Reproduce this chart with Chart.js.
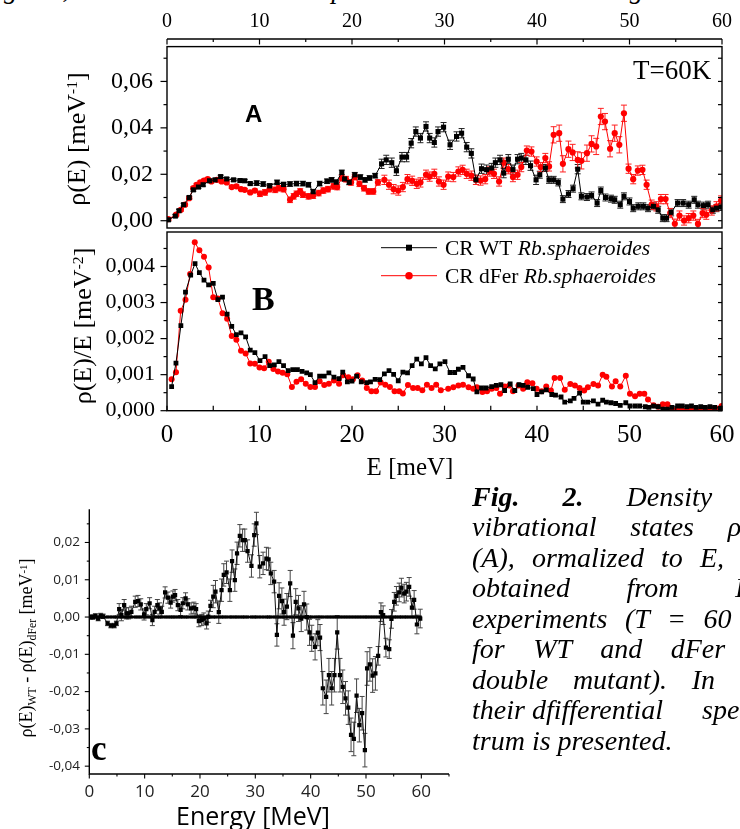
<!DOCTYPE html>
<html lang="en">
<head>
<meta charset="UTF-8">
<meta name="viewport" content="width=740, initial-scale=1.0">
<title>Density of vibrational states, CR WT and dFer</title>
<script src="https://cdn.jsdelivr.net/npm/chart.js"></script>
<style>
    html, body { margin: 0; padding: 0; background: #fff; }
    body { position: relative; width: 740px; height: 829px; overflow: hidden; color: #000; font-family: "Liberation Serif", serif; }
    canvas { position: absolute; left: 0; }
    #chartA { top: 0; }
    #chartB { top: 228px; }
    #chartC { top: 480px; }
    .rot { position: absolute; width: 240px; text-align: center; white-space: nowrap; transform: rotate(-90deg); }
    .sup { position: relative; top: -0.5em; font-size: 0.6em; }
    .sub { position: relative; top: 0.3em; font-size: 0.65em; }
    .title { position: absolute; width: 200px; text-align: center; white-space: nowrap; }
    #caption { position: absolute; left: 472px; top: 481.75px; width: 305px; font-size: 28px; line-height: 30.5px; font-style: italic; }
    #caption div { text-align: justify; text-align-last: justify; }
    #caption div.last { text-align-last: left; white-space: nowrap; }
    #cut { position: absolute; left: 4px; top: -23.6px; font-size: 27px; line-height: 27px; font-style: italic; white-space: nowrap; }
</style>
</head>
<body>
    <div id="cut">gions, and the measured INS spectra are then shown in Figure</div>

    <canvas id="chartA" width="740" height="232"></canvas>
    <canvas id="chartB" width="740" height="250"></canvas>
    <canvas id="chartC" width="460" height="349"></canvas>

    <!-- axis titles -->
    <div class="rot" style="left:-43px; top:123.5px; height:30px; line-height:30px; font-size:26px;">&rho;(E) [meV<span class="sup">-1</span>]</div>
    <div class="rot" style="left:-37px; top:311px; height:30px; line-height:30px; font-size:26px;">&rho;(E)/E [meV<span class="sup">-2</span>]</div>
    <div class="rot" style="left:-94px; top:636px; height:24px; line-height:24px; font-size:18px;">&rho;(E)<span class="sub">WT</span> - &rho;(E)<span class="sub">dFer</span> [meV<span class="sup">-1</span>]</div>
    <div class="title" style="left:310px; top:452px; line-height:30px; font-size:25px;">E [meV]</div>
    <div class="title" style="left:153px; top:800px; line-height:30px; font-size:25px; font-family:'Open Sans', sans-serif;">Energy [MeV]</div>

    <!-- caption -->
    <div id="caption">
        <div><b>Fig. 2.</b> Density of</div>
        <div>vibrational states &rho;(E)</div>
        <div>(A), ormalized to E, (B)</div>
        <div>obtained from INS</div>
        <div>experiments (T = 60 K)</div>
        <div>for WT and dFer (a</div>
        <div>double mutant). In (C)</div>
        <div class="last">their dfifferential <span style="margin-left:32px">spec-</span></div>
        <div class="last">trum is presented.</div>
    </div>

    <script>
        // ---- values ----

        // A: rho(E) [1/meV], CR WT
        const wtE = [0.15,0.9,1.3,1.8,2.4,2.85,3.4,3.9,4.6,5.2,
            5.8,6.45,7.2,7.9,8.4,9.0,9.7,10.4,11.1,11.9,
            12.6,13.3,14.0,14.7,15.3,15.8,16.5,17.3,17.8,18.3,
            18.9,19.2,19.7,20.3,20.9,21.4,21.9,22.5,23.2,23.7,
            24.3,24.8,25.4,25.9,26.4,26.9,27.4,28.0,28.4,28.9,
            29.3,29.9,30.6,31.3,31.85,32.4,32.9,33.4,34.0,34.55,
            35.1,35.5,36.0,36.4,36.9,37.4,37.9,38.3,38.8,39.3,
            39.9,40.3,40.9,41.3,41.8,42.3,42.8,43.4,43.9,44.4,
            44.8,45.4,45.9,46.5,46.9,47.4,48.0,48.4,49.0,49.4,
            50.0,50.4,50.95,51.5,52.0,52.6,53.1,53.6,54.0,54.5,
            55.2,55.8,56.4,57.0,57.4,58.0,58.5,59.0,59.4,59.9];
        const wtRho = [.0004,.002,.0043,.0069,.01,.0133,.0145,.0155,.0172,.0176,
            .019,.018,.0176,.0173,.0172,.016,.0162,.0158,.015,.0165,
            .0156,.0158,.016,.016,.0155,.0125,.016,.017,.0176,.0166,
            .0208,.018,.0165,.0198,.0188,.0176,.0184,.0194,.0245,.0262,
            .025,.0215,.0274,.0274,.0334,.0384,.0356,.0406,.0356,.0337,
            .0384,.0403,.0327,.0363,.0377,.0317,.029,.0176,.0224,.022,
            .0227,.025,.0262,.0205,.0265,.022,.0265,.027,.0262,.0237,
            .0176,.0198,.0227,.0176,.0176,.0165,.0093,.0115,.0138,.0222,
            .0105,.0102,.0109,.0076,.013,.01,.0095,.009,.0069,.0105,
            .0083,.0054,.0062,.0062,.0054,.0062,.0047,.0011,.0011,.0036,
            .0076,.0076,.0069,.009,.0069,.0065,.0069,.0047,.0054,.0059];
        const wtRhoErr = [.0006,.0006,.0006,.0006,.0006,.0006,.0006,.0006,.0006,.0006,
            .0006,.0006,.0006,.0006,.0006,.0006,.001,.001,.001,.001,
            .001,.001,.001,.001,.001,.001,.001,.001,.001,.001,
            .001,.001,.001,.001,.001,.001,.001,.001,.002,.002,
            .002,.002,.002,.002,.002,.002,.002,.002,.002,.002,
            .002,.002,.002,.002,.002,.002,.002,.002,.002,.002,
            .002,.002,.002,.002,.002,.002,.002,.002,.002,.002,
            .002,.0015,.0015,.0015,.0015,.0015,.0015,.0015,.0015,.002,
            .0015,.0015,.0015,.0015,.0015,.0015,.0015,.0015,.0015,.0015,
            .0015,.0015,.0015,.0015,.0015,.0015,.0015,.0015,.0015,.0015,
            .0015,.0015,.0015,.0015,.0015,.0015,.0015,.0015,.0015,.0015];

        // A: rho(E) [1/meV], CR dFer
        const dferE = [0.15,1.0,1.5,1.95,2.4,2.85,3.2,3.6,4.0,4.4,
            4.8,5.4,5.9,6.45,7.0,7.5,8.0,8.4,9.0,9.5,
            10.05,10.6,11.1,11.7,12.1,12.6,13.3,13.7,14.0,14.4,
            14.7,15.3,15.8,16.4,16.9,17.4,18.0,18.4,18.9,19.35,
            19.9,20.3,20.8,21.3,21.8,22.3,22.8,23.5,24.0,24.5,
            25.0,25.5,26.0,26.5,27.0,27.4,28.0,28.4,28.9,29.4,
            29.9,30.4,30.95,31.5,31.96,32.4,32.9,33.4,33.9,34.4,
            34.9,35.35,35.9,36.4,36.9,37.4,37.9,38.3,38.9,39.4,
            39.96,40.4,40.9,41.3,41.8,42.4,42.8,43.4,43.85,44.4,
            44.8,45.4,45.9,46.4,46.9,47.35,47.9,48.4,48.9,49.4,
            49.9,50.4,50.9,51.4,51.85,52.4,52.9,53.4,53.9,54.4,
            54.9,55.4,55.9,56.4,56.9,57.4,57.9,58.3,58.9,59.4,
            59.9];
        const dferRho = [.0007,.0026,.0047,.0069,.0097,.014,.0155,.0165,.0173,.0179,
            .0169,.0176,.0169,.0165,.0145,.0148,.0136,.0133,.0122,.013,
            .0116,.0122,.0136,.0133,.014,.0136,.009,.0105,.0116,.0126,
            .0112,.0105,.0108,.0119,.013,.0136,.0148,.0145,.0184,.0179,
            .0165,.0188,.0159,.014,.0126,.0126,.0165,.0176,.0155,.0136,
            .013,.0145,.0179,.0172,.0159,.0165,.0198,.019,.0202,.0169,
            .0155,.019,.0188,.0212,.0219,.0202,.0194,.0176,.0173,.0179,
            .0212,.0202,.0169,.025,.0222,.0188,.0198,.0231,.0302,.0298,
            .0255,.0231,.027,.0234,.037,.0377,.0245,.0308,.0294,.0262,
            .0258,.0291,.0331,.032,.0449,.0427,.031,.0377,.0327,.0463,
            .0224,.0179,.0216,.0219,.0155,.0069,.0062,.0093,.0093,.0033,
            -.0013,.0022,.0001,.0011,.0022,-.0014,.0033,.0026,.0044,.0062,
            .0087];
        const dferRhoErr = [.0006,.0006,.0006,.0006,.0006,.0006,.0006,.0006,.0006,.0006,
            .0006,.0006,.0006,.0006,.0006,.0006,.0006,.0006,.0006,.0006,
            .0012,.0012,.0012,.0012,.0012,.0012,.0012,.0012,.0012,.0012,
            .0012,.0012,.0012,.0012,.0012,.0012,.0012,.0012,.0012,.0012,
            .0012,.0012,.0012,.0012,.0012,.0012,.0012,.002,.002,.002,
            .002,.002,.002,.002,.002,.002,.002,.002,.002,.002,
            .002,.002,.002,.002,.002,.002,.002,.002,.002,.002,
            .002,.002,.002,.002,.002,.002,.002,.002,.002,.002,
            .002,.002,.002,.002,.0035,.0035,.0035,.0035,.0035,.0035,
            .0035,.0035,.0035,.0035,.0035,.0035,.0035,.0035,.0035,.0035,
            .002,.002,.002,.002,.002,.002,.002,.002,.002,.002,
            .002,.002,.002,.002,.002,.002,.002,.002,.002,.002,
            .002];

        // B: rho(E)/E [1/meV^2]
        const wtEB = [0.5,0.97,1.5,2.0,2.56,3.03,3.5,4.0,4.5,5.0,
            5.5,6.0,6.5,7.0,7.5,8.0,8.5,9.0,9.5,10.05,
            10.6,11.1,11.6,12.1,12.6,13.1,13.6,14.1,14.6,15.1,
            15.5,16.0,16.5,17.0,17.5,18.05,18.6,19.0,19.5,20.0,
            20.5,21.0,21.6,22.0,22.5,23.0,23.5,24.0,24.5,25.0,
            25.5,26.0,26.5,27.0,27.5,28.0,28.5,29.0,29.5,30.05,
            30.6,31.1,31.5,32.0,32.6,33.1,33.5,34.0,34.5,35.1,
            35.6,36.1,36.5,37.1,37.6,38.05,38.5,39.0,39.6,40.0,
            40.5,41.0,41.6,42.0,42.6,43.0,43.6,44.0,44.6,45.0,
            45.5,46.1,46.6,47.1,47.5,48.0,48.5,49.0,49.6,50.05,
            50.6,51.1,51.7,52.1,52.6,53.1,53.6,54.1,54.6,55.2,
            55.7,56.2,56.7,57.2,57.7,58.2,58.7,59.2,59.8];
        const wtRhoE = [.00067,.00132,.00236,.00329,.00376,.00408,.00383,.00362,.00349,.00353,
            .00308,.00315,.00268,.00234,.00211,.00216,.00205,.00168,.00161,.00139,
            .0015,.00125,.00127,.00136,.00125,.00111,.00114,.00114,.00109,.00105,
            .001,.00078,.00096,.00096,.00105,.00093,.00089,.00107,.0008,.00082,
            .00096,.0008,.00078,.0008,.00087,.00086,.00102,.00111,.00101,.00083,
            .00107,.00105,.00125,.00143,.0013,.00147,.00125,.00116,.0013,.00136,
            .00106,.00106,.00115,.0012,.00097,.00088,.00052,.00063,.00063,.00067,
            .0007,.00072,.00056,.00074,.00056,.00072,.0007,.00065,.00061,.00045,
            .00052,.00058,.00045,.00043,.00038,.00024,.00027,.00034,.00049,.00024,
            .00024,.00027,.00018,.00029,.00024,.00022,.0002,.00015,.00022,.00013,
            .00013,.00013,.00011,.00009,.00013,.00011,.00004,.00004,.00009,.00013,
            .00013,.00011,.00013,.00009,.00011,.00009,.00011,.00009,.00007];
        const dferEB = [0.5,0.97,1.48,2.0,2.5,3.0,3.5,4.0,4.5,5.0,
            5.5,6.0,6.5,7.0,7.5,8.0,8.5,9.0,9.5,10.0,
            10.5,11.0,11.5,12.0,12.5,13.0,13.5,14.0,14.5,15.0,
            15.5,16.0,16.5,17.0,17.5,18.05,18.6,19.05,19.6,20.1,
            20.6,21.1,21.6,22.1,22.6,23.1,23.6,24.1,24.6,25.1,
            25.5,26.05,26.6,27.1,27.6,28.1,28.6,29.1,29.6,30.4,
            30.95,31.5,32.0,32.6,33.1,33.5,34.1,34.6,35.1,35.6,
            36.0,36.5,37.0,37.4,38.0,38.5,38.95,39.5,39.96,40.5,
            41.0,41.5,41.9,42.5,43.0,43.6,44.1,44.6,45.1,45.5,
            46.1,46.6,47.1,47.5,48.1,48.5,49.0,49.6,50.05,50.6,
            51.1,51.6,52.0,52.6,53.1,53.6,54.1,54.6,55.1,55.6,
            56.2,56.7,57.3,57.8,58.3,58.9,59.4,59.96];
        const dferRhoE = [.00087,.00107,.00277,.00308,.00379,.00467,.00445,.00427,.00397,.00315,
            .00311,.0027,.00255,.00207,.00197,.00166,.00159,.00131,.0013,.0012,
            .00118,.00136,.00116,.00109,.00105,.00101,.00066,.0008,.00087,.00075,
            .00066,.00066,.00082,.00071,.00075,.00084,.00075,.00098,.00093,.00087,
            .00098,.00084,.00063,.00054,.00054,.00078,.00072,.00066,.00054,.00054,
            .00048,.00071,.00063,.00063,.00057,.00072,.00063,.00072,.00057,.00061,
            .00065,.0007,.00072,.00065,.00061,.00065,.00052,.00054,.00061,.00063,
            .00047,.00067,.0007,.00054,.0007,.00061,.00079,.00076,.00061,.00054,
            .00067,.00056,.00091,.00091,.00058,.00074,.0007,.00063,.00056,.00065,
            .00074,.0007,.001,.00094,.00067,.00082,.00067,.00097,.00047,.0004,
            .00047,.00047,.00031,.00015,.00011,.00018,.00018,.00004,.00002,.00004,
            .00002,.00004,.00002,.00004,.00002,.00005,.00006,.00013];

        // C: rho(E)_WT - rho(E)_dFer [1/meV]
        const diffE = [0.25,0.67,1.1,1.6,2.05,2.5,3.3,3.9,4.5,4.9,
            5.4,5.8,6.3,6.7,7.1,7.6,8.3,8.8,9.3,9.9,
            10.3,10.9,11.4,11.8,12.3,12.7,13.1,13.7,14.2,14.7,
            15.1,15.5,16.0,16.5,16.9,17.4,17.8,18.4,18.9,19.3,
            19.8,20.3,20.7,21.2,21.5,21.9,22.4,22.8,23.4,23.9,
            24.3,24.8,25.4,25.8,26.3,26.7,27.2,27.7,28.1,28.6,
            29.3,29.8,30.2,30.8,31.4,32.0,32.4,32.8,33.4,33.9,
            34.3,34.8,35.2,35.7,36.3,36.8,37.3,37.8,38.3,38.8,
            39.3,39.8,40.2,40.8,41.3,41.7,42.2,42.8,43.3,43.8,
            44.3,44.8,45.3,45.8,46.3,46.8,47.3,47.8,48.3,48.8,
            49.3,49.8,50.2,50.7,51.2,51.7,52.2,52.7,53.1,53.6,
            54.2,54.6,55.1,55.5,56.0,56.4,56.9,57.3,57.8,58.3,
            58.7,59.2,59.8];
        const diffRho = [0,0,.0003,-.0004,.0004,.0002,-.0017,-.0023,-.0023,-.0017,
            .0021,.0005,.0032,.001,.001,.0014,.0041,.0043,.0034,.0007,
            .0021,.0037,-.0008,.0014,.0032,.0023,.0014,.0066,.0052,.0039,
            .0055,.0059,.0032,.0019,.0037,.005,.0034,.0023,.0025,.0021,
            -.0011,-.0008,-.0004,-.0017,.0001,.003,.0055,.0068,.0013,.0072,
            .0113,.012,.0072,.015,.0099,.0171,.0218,.0206,.0206,.0177,
            .0137,.022,.0251,.0135,.0144,.0157,.0155,.0117,.0095,-.0048,
            .0057,.0043,.0013,.0028,.009,-.005,.0041,.0023,-.0004,.0034,
            0,-.0041,-.0057,-.008,-.0042,-.0055,-.0191,-.0214,-.0156,-.0191,
            -.0156,-.0041,-.0156,-.0187,-.0218,-.0243,-.0316,-.0327,-.0211,-.029,
            -.0258,-.0357,-.0138,-.0127,-.0157,-.0151,-.0104,.0013,.0005,-.0082,
            -.0086,-.0005,.0041,.0057,.0066,.0079,.0063,.0068,.0081,.0025,
            .0046,-.002,-.0004];
        const diffErr = [.0006,.0006,.0006,.0006,.0006,.0006,.0006,.0006,.0006,.0006,
            .0015,.0015,.0015,.0015,.0015,.0015,.0015,.0015,.0015,.0015,
            .0015,.0015,.0015,.0015,.0015,.0015,.0015,.0015,.0015,.0015,
            .0015,.0015,.0015,.0015,.0015,.0015,.0015,.0015,.0015,.0015,
            .0015,.0015,.0015,.0015,.0015,.0015,.003,.003,.003,.003,
            .003,.003,.003,.003,.003,.003,.003,.003,.003,.003,
            .003,.003,.003,.003,.003,.003,.003,.003,.003,.003,
            .0035,.0035,.0035,.0035,.0035,.0035,.0035,.0035,.0035,.0035,
            .0035,.0035,.0035,.0035,.0035,.0035,.0045,.0045,.0045,.0045,
            .0045,.0045,.0045,.0045,.0045,.0045,.0045,.0045,.0045,.0045,
            .0045,.0045,.0045,.0045,.0045,.0045,.0025,.0025,.0025,.0025,
            .0025,.0025,.0025,.0025,.0025,.0025,.0025,.0025,.0025,.0025,
            .0025,.0025,.0025];

        const seriesNames = ['CR WT Rb.sphaeroides', 'CR dFer Rb.sphaeroides'];

        // ---- helpers ----
        const SERIF = 'Liberation Serif';
        const SANS = 'Open Sans';
        const pts = (xs, ys) => xs.map((x, i) => ({ x: x, y: ys[i] }));
        const comma = (v, d) => v.toFixed(d).replace('.', ',');

        // every other tick gets a label, the rest are minor ticks
        function majorLabel(step, digits) {
            return v => {
                const k = Math.round(v / step);
                return k % 2 === 0 ? comma(k * step, digits) : '';
            };
        }

        function axis(extra) {
            return Object.assign({
                type: 'linear',
                grid: { display: false, drawTicks: false },
                border: { display: false }
            }, extra);
        }

        function fixSize(prop, size) {
            return s => {
                s[prop] = size;
                s.paddingTop = s.paddingBottom = s.paddingLeft = s.paddingRight = 0;
            };
        }

        function drawTicks(ctx, scale, at, dir, major, minor) {
            scale.ticks.forEach(t => {
                const p = scale.getPixelForValue(t.value);
                const len = t.label === '' ? minor : major;
                ctx.beginPath();
                if (scale.isHorizontal()) { ctx.moveTo(p, at); ctx.lineTo(p, at + dir * len); }
                else { ctx.moveTo(at, p); ctx.lineTo(at + dir * len, p); }
                ctx.stroke();
            });
        }

        const errorBars = {
            id: 'errorBars',
            beforeDatasetsDraw(chart) {
                const { ctx, chartArea: a } = chart;
                ctx.save();
                ctx.beginPath();
                ctx.rect(a.left, a.top, a.right - a.left, a.bottom - a.top);
                ctx.clip();
                chart.data.datasets.forEach((ds, i) => {
                    if (!ds.errors) return;
                    const meta = chart.getDatasetMeta(i);
                    const ys = chart.scales[meta.yAxisID];
                    const w = ds.capWidth / 2;
                    ctx.strokeStyle = ds.errorColor;
                    ctx.lineWidth = 1;
                    meta.data.forEach((pt, j) => {
                        const v = ds.data[j].y, e = ds.errors[j];
                        const hi = ys.getPixelForValue(v + e), lo = ys.getPixelForValue(v - e);
                        ctx.beginPath();
                        ctx.moveTo(pt.x, hi); ctx.lineTo(pt.x, lo);
                        ctx.moveTo(pt.x - w, hi); ctx.lineTo(pt.x + w, hi);
                        ctx.moveTo(pt.x - w, lo); ctx.lineTo(pt.x + w, lo);
                        ctx.stroke();
                    });
                });
                ctx.restore();
            }
        };

        const common = {
            responsive: false,
            animation: false,
            events: [],
            devicePixelRatio: 1,
            plugins: { legend: { display: false }, tooltip: { enabled: false } }
        };

        const wtStyle = { showLine: true, borderColor: '#000', borderWidth: 1, pointStyle: 'rect',
            pointBackgroundColor: '#000', pointBorderWidth: 0 };
        const dferStyle = { showLine: true, borderColor: '#ff0000', borderWidth: 1, pointStyle: 'circle',
            pointBackgroundColor: '#ff0000', pointBorderWidth: 0 };

        // ---- A ----
        const frameTopA = 0.075;
        new Chart(document.getElementById('chartA'), {
            type: 'scatter',
            data: {
                datasets: [
                    Object.assign({ label: seriesNames[0], data: pts(wtE, wtRho), errors: wtRhoErr,
                        errorColor: '#222', capWidth: 6, pointRadius: 3.6 }, wtStyle),
                    Object.assign({ label: seriesNames[1], data: pts(dferE, dferRho), errors: dferRhoErr,
                        errorColor: '#ff2020', capWidth: 6, pointRadius: 3.1 }, dferStyle)
                ]
            },
            options: Object.assign({}, common, {
                layout: { padding: { left: 0, right: 18, top: 0, bottom: 3.7 } },
                scales: {
                    x: axis({ position: 'top', min: 0, max: 60, afterFit: fixSize('height', 39),
                        ticks: { stepSize: 5, autoSkip: false, maxRotation: 0, padding: 5, color: '#000',
                            font: { family: SERIF, size: 20 }, callback: majorLabel(5, 0) } }),
                    y: axis({ min: -0.00314, max: 0.07828, afterFit: fixSize('width', 167),
                        ticks: { stepSize: 0.01, autoSkip: false, includeBounds: false, padding: 14, color: '#000',
                            font: { family: SERIF, size: 24 }, callback: majorLabel(0.01, 2) } })
                }
            }),
            plugins: [errorBars, {
                id: 'decorA',
                afterDraw(chart) {
                    const { ctx, chartArea: a, scales: { x, y } } = chart;
                    const top = y.getPixelForValue(frameTopA);
                    ctx.save();
                    ctx.strokeStyle = '#000';
                    ctx.lineWidth = 1.4;
                    ctx.strokeRect(a.left, top, a.right - a.left, a.bottom - top);
                    ctx.beginPath(); ctx.moveTo(a.left, a.top); ctx.lineTo(a.right, a.top); ctx.stroke();
                    ctx.lineWidth = 1.2;
                    drawTicks(ctx, x, a.top, 1, 5.5, 3);
                    drawTicks(ctx, y, a.left, -1, 6.5, 3.5);
                    drawTicks(ctx, y, a.right, -1, 4, 4);
                    ctx.fillStyle = '#000';
                    ctx.font = '27px "' + SERIF + '"';
                    ctx.fillText('T=60K', 633, 78.5);
                    ctx.font = 'bold 24px "Liberation Sans"';
                    ctx.fillText('A', 245, 122);
                    ctx.restore();
                }
            }]
        });

        // ---- B ----
        function legendRow(ctx, x0, y, ds) {
            const name = ds.label, cut = name.indexOf('Rb.');
            ctx.strokeStyle = ds.borderColor;
            ctx.lineWidth = 1;
            ctx.beginPath(); ctx.moveTo(x0, y); ctx.lineTo(x0 + 56, y); ctx.stroke();
            ctx.fillStyle = ds.pointBackgroundColor;
            const r = ds.pointRadius * 1.25;
            if (ds.pointStyle === 'rect') {
                const h = r * Math.SQRT1_2;
                ctx.fillRect(x0 + 28 - h, y - h, 2 * h, 2 * h);
            } else {
                ctx.beginPath(); ctx.arc(x0 + 28, y, r, 0, 2 * Math.PI); ctx.fill();
            }
            ctx.fillStyle = '#000';
            ctx.font = '21.5px "' + SERIF + '"';
            ctx.fillText(name.slice(0, cut), x0 + 64, y + 7);
            const w = ctx.measureText(name.slice(0, cut)).width;
            ctx.font = 'italic 21.5px "' + SERIF + '"';
            ctx.fillText(name.slice(cut), x0 + 64 + w, y + 7);
        }

        new Chart(document.getElementById('chartB'), {
            type: 'scatter',
            data: {
                datasets: [
                    Object.assign({ label: seriesNames[0], data: pts(wtEB, wtRhoE), pointRadius: 3.4 }, wtStyle),
                    Object.assign({ label: seriesNames[1], data: pts(dferEB, dferRhoE), pointRadius: 3.0 }, dferStyle)
                ]
            },
            options: Object.assign({}, common, {
                layout: { padding: { left: 0, right: 18, top: 0.3, bottom: 0 } },
                scales: {
                    x: axis({ position: 'bottom', min: 0, max: 60, afterFit: fixSize('height', 67.3),
                        ticks: { stepSize: 5, autoSkip: false, maxRotation: 0, padding: 9.3, color: '#000',
                            font: { family: SERIF, size: 25 }, callback: majorLabel(5, 0) } }),
                    y: axis({ min: 0, max: 0.004957, afterFit: fixSize('width', 167),
                        ticks: { stepSize: 0.0005, autoSkip: false, includeBounds: false, padding: 12, color: '#000',
                            font: { family: SERIF, size: 22 }, callback: majorLabel(0.0005, 3) } })
                }
            }),
            plugins: [{
                id: 'decorB',
                afterDraw(chart) {
                    const { ctx, chartArea: a, scales: { x, y } } = chart;
                    ctx.save();
                    ctx.strokeStyle = '#000';
                    ctx.lineWidth = 1.4;
                    ctx.strokeRect(a.left, a.top, a.right - a.left, a.bottom - a.top);
                    ctx.lineWidth = 1.2;
                    drawTicks(ctx, x, a.bottom, -1, 5, 5);
                    drawTicks(ctx, y, a.left, -1, 6.5, 3.5);
                    drawTicks(ctx, y, a.right, -1, 4, 4);
                    const ds = chart.data.datasets;
                    legendRow(ctx, 381, 19.7, ds[0]);
                    legendRow(ctx, 381, 47.7, ds[1]);
                    ctx.fillStyle = '#000';
                    ctx.font = 'bold 34px "' + SERIF + '"';
                    ctx.fillText('B', 252, 82);
                    ctx.restore();
                }
            }]
        });

        // ---- C ----
        new Chart(document.getElementById('chartC'), {
            type: 'scatter',
            data: {
                datasets: [
                    { label: 'WT - dFer', data: pts(diffE, diffRho), errors: diffErr, errorColor: '#444', capWidth: 5,
                      showLine: true, borderColor: '#111', borderWidth: 1, pointStyle: 'rect', pointRadius: 3,
                      pointBackgroundColor: '#000', pointBorderWidth: 0 },
                    { label: 'zero', data: pts(diffE, diffE.map(() => 0)),
                      showLine: true, borderColor: '#000', borderWidth: 2.5, pointStyle: 'rect', pointRadius: 2.2,
                      pointBackgroundColor: '#000', pointBorderWidth: 0 }
                ]
            },
            options: Object.assign({}, common, {
                layout: { padding: { left: 0, right: 11, top: 29.3, bottom: 0 } },
                scales: {
                    x: axis({ position: 'bottom', min: 0, max: 65, afterFit: fixSize('height', 55),
                        ticks: { stepSize: 5, autoSkip: false, maxRotation: 0, padding: 7.5, color: '#222',
                            font: { family: SANS, size: 17 }, callback: majorLabel(5, 0) } }),
                    y: axis({ min: -0.0421, max: 0.0289, afterFit: fixSize('width', 89.3),
                        ticks: { stepSize: 0.005, autoSkip: false, includeBounds: false, padding: 9.3, color: '#222',
                            font: { family: SANS, size: 13.5 }, callback: majorLabel(0.005, 2) } })
                }
            }),
            plugins: [errorBars, {
                id: 'decorC',
                afterDraw(chart) {
                    const { ctx, chartArea: a, scales: { x, y } } = chart;
                    ctx.save();
                    ctx.strokeStyle = '#000';
                    ctx.lineWidth = 1.4;
                    ctx.beginPath();
                    ctx.moveTo(a.left, a.top); ctx.lineTo(a.left, a.bottom); ctx.lineTo(a.right, a.bottom);
                    ctx.stroke();
                    ctx.lineWidth = 1.1;
                    drawTicks(ctx, x, a.bottom, 1, 4.5, 2.5);
                    drawTicks(ctx, y, a.left, -1, 4.5, 2.5);
                    ctx.fillStyle = '#000';
                    ctx.font = 'bold 35px "' + SERIF + '"';
                    ctx.fillText('c', 91, 280);
                    ctx.restore();
                }
            }]
        });
    </script>
</body>
</html>
